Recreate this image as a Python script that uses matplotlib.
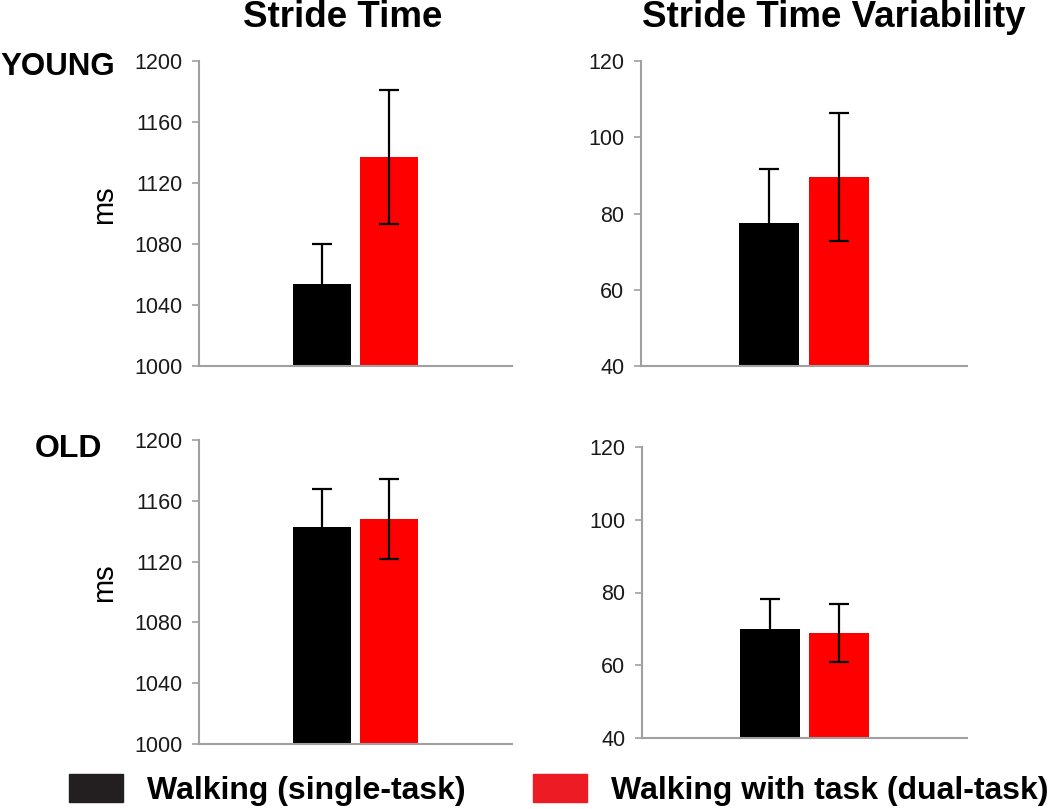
import matplotlib
matplotlib.use("Agg")
import matplotlib.pyplot as plt
import matplotlib.patches as mpatches

plt.rcParams['font.family'] = ['Liberation Sans', 'DejaVu Sans']

# values (mean, error)
conditions = ["Walking (single-task)", "Walking with task (dual-task)"]
bar_colors = ["#000000", "#ff0000"]
legend_colors = ["#231f20", "#ed1c24"]

young_stride = [1054, 1137]
young_stride_err = [26, 44]
young_var = [77.4, 89.5]
young_var_err = [14.4, 16.8]

old_stride = [1143, 1148]
old_stride_err = [25, 26.5]
old_var = [70.0, 68.9]
old_var_err = [8.1, 7.9]

stride_ticks = [1000, 1040, 1080, 1120, 1160, 1200]
var_ticks = [40, 60, 80, 100, 120]

W, H = 1050, 809
fig = plt.figure(figsize=(W / 100, H / 100), dpi=100)

def px_axes(left, right, top, bottom):
    return fig.add_axes([left / W, 1 - bottom / H, (right - left) / W, (bottom - top) / H])

panels = [
    (px_axes(199, 512, 61, 366), young_stride, young_stride_err, stride_ticks, True),
    (px_axes(641, 967, 61, 366), young_var, young_var_err, var_ticks, False),
    (px_axes(199, 512, 440, 744), old_stride, old_stride_err, stride_ticks, True),
    (px_axes(642, 967, 447, 738), old_var, old_var_err, var_ticks, False),
]

offsets = [-0.107, 0.107]
for ax, vals, errs, ticks, show_ms in panels:
    for i in range(2):
        ax.bar(offsets[i], vals[i] - ticks[0], bottom=ticks[0], width=0.185,
               color=bar_colors[i], zorder=2)
        ax.errorbar(offsets[i], vals[i], yerr=errs[i], fmt='none', ecolor='black',
                    elinewidth=1.6, capsize=7, capthick=1.6, zorder=3)
    ax.set_xlim(-0.5, 0.5)
    ax.set_ylim(ticks[0], ticks[-1])
    ax.set_yticks(ticks)
    ax.set_xticks([])
    for s in ['top', 'right']:
        ax.spines[s].set_visible(False)
    for s in ['left', 'bottom']:
        ax.spines[s].set_color('#a0a0a0')
        ax.spines[s].set_linewidth(1.5)
    ax.tick_params(axis='y', direction='out', length=5, width=1.2, color='#a0a0a0',
                   pad=7, labelsize=15.5, labelcolor='#1a1a1a')
    if show_ms:
        ax.set_ylabel("ms", fontsize=21, va='center')
        ax.yaxis.set_label_coords(-0.3035, 0.53)

fig.text(243 / W, 1 - 27 / H, "Stride Time", fontsize=26.5, fontweight='bold', ha='left', va='baseline')
fig.text(642 / W, 1 - 27 / H, "Stride Time Variability", fontsize=26.5, fontweight='bold', ha='left', va='baseline')
fig.text(0 / W, 1 - 75 / H, "YOUNG", fontsize=22.5, fontweight='bold', ha='left', va='baseline')
fig.text(35 / W, 1 - 457 / H, "OLD", fontsize=23, fontweight='bold', ha='left', va='baseline')

handles = [mpatches.Patch(color=c, label=l) for c, l in zip(legend_colors, conditions)]
fig.legend(handles=handles, loc='center left', bbox_to_anchor=(69 / W, 1 - 790 / H),
           ncol=2, frameon=False, prop={'weight': 'bold', 'size': 23},
           handlelength=1.69, handleheight=1.0, handletextpad=0.75, columnspacing=2.1,
           borderpad=0, borderaxespad=0)

fig.savefig("out.png", dpi=100)
